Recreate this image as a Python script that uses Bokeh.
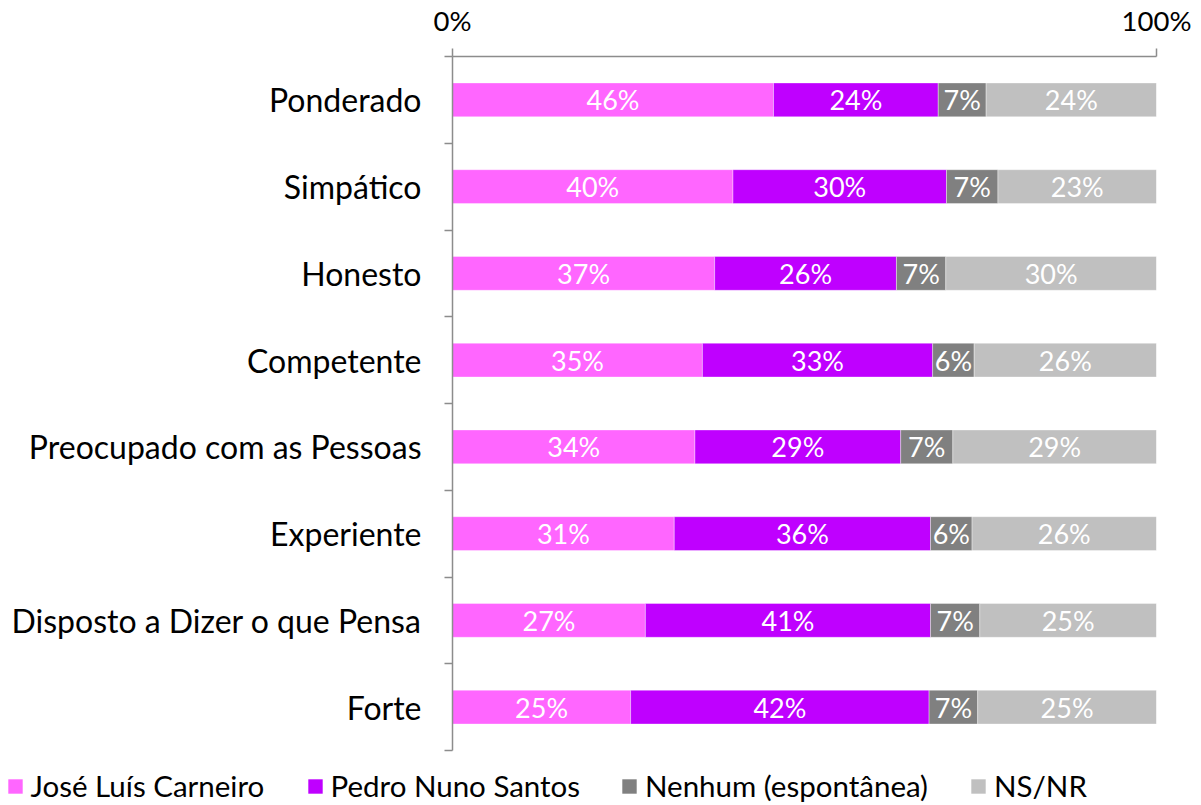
from bokeh.plotting import figure
from bokeh.layouts import column
from bokeh.models import (ColumnDataSource, Range1d, FixedTicker, NumeralTickFormatter,
                          Legend, LegendItem, Plot)
from bokeh.core.properties import value
from bokeh.embed import file_html
from bokeh.resources import INLINE

categories = ["Ponderado", "Simpático", "Honesto", "Competente",
              "Preocupado com as Pessoas", "Experiente",
              "Disposto a Dizer o que Pensa", "Forte"]
series = ["José Luís Carneiro", "Pedro Nuno Santos", "Nenhum (espontânea)", "NS/NR"]
jose = [45.6, 39.8, 37.2, 35.5, 34.4, 31.5, 27.4, 25.3]
pedro = [23.4, 30.3, 25.8, 32.7, 29.2, 36.4, 40.5, 42.4]
nenhum = [6.8, 7.3, 7.0, 5.9, 7.4, 5.9, 7.0, 6.9]
nsnr = [24.2, 22.5, 29.9, 25.9, 28.9, 26.2, 25.1, 25.4]
jose_lbl = [46, 40, 37, 35, 34, 31, 27, 25]
pedro_lbl = [24, 30, 26, 33, 29, 36, 41, 42]
nenhum_lbl = [7, 7, 7, 6, 7, 6, 7, 7]
nsnr_lbl = [24, 23, 30, 26, 29, 26, 25, 25]
colors = ["#FF66FF", "#BF00FF", "#808080", "#C0C0C0"]

FONT = "Lato"
W = 1193
H = 760
FL, FR, FT, FB = 452, 1156, 56, 750  # frame edges

p = figure(width=W, height=H, output_backend="svg", toolbar_location=None,
           x_range=Range1d(0, 1), y_range=Range1d(len(categories) - 0.5, -0.5),
           x_axis_location="above",
           min_border_left=FL, min_border_right=W - FR,
           min_border_top=FT, min_border_bottom=H - FB)
p.outline_line_color = None
p.xgrid.visible = False
p.ygrid.visible = False

vals = [jose, pedro, nenhum, nsnr]
lbls = [jose_lbl, pedro_lbl, nenhum_lbl, nsnr_lbl]
n = len(categories)
totals = [sum(v[i] for v in vals) for i in range(n)]
ys = list(range(n))
cum = [0.0] * n
for k, (v, lb) in enumerate(zip(vals, lbls)):
    left = [cum[i] / totals[i] for i in range(n)]
    right = [(cum[i] + v[i]) / totals[i] for i in range(n)]
    cum = [cum[i] + v[i] for i in range(n)]
    src = ColumnDataSource(dict(y=ys, left=left, right=right,
                                mid=[(a + b) / 2 for a, b in zip(left, right)],
                                lbl=[f"{x}%" for x in lb]))
    p.hbar(y="y", left="left", right="right", height=0.39, source=src,
           fill_color=colors[k], line_color="white", line_width=0.6, line_alpha=0.6)
    p.text(x="mid", y="y", text="lbl", source=src, text_align="center",
           text_baseline="middle", text_color="white",
           text_font=value(FONT), text_font_size="27px")

axis_col = "#8C8C8C"
xa = p.xaxis[0]
xa.ticker = FixedTicker(ticks=[0, 1], minor_ticks=[])
xa.formatter = NumeralTickFormatter(format="0%")
xa.axis_line_color = axis_col
xa.axis_line_width = 1.5
xa.major_tick_line_color = axis_col
xa.major_tick_line_width = 1.5
xa.major_tick_out = 8
xa.major_tick_in = 0
xa.minor_tick_line_color = None
xa.major_label_text_font = FONT
xa.major_label_text_font_size = "27.5px"
xa.major_label_text_color = "black"
xa.major_label_standoff = 12

ya = p.yaxis[0]
ya.ticker = FixedTicker(ticks=ys, minor_ticks=[i - 0.5 for i in range(n + 1)])
ya.major_label_overrides = {i: c for i, c in enumerate(categories)}
ya.axis_line_color = axis_col
ya.axis_line_width = 1.5
ya.major_tick_line_color = None
ya.major_tick_out = 0
ya.major_tick_in = 0
ya.minor_tick_line_color = axis_col
ya.minor_tick_line_width = 1.5
ya.minor_tick_out = 8
ya.minor_tick_in = 0
ya.major_label_text_font = FONT
ya.major_label_text_font_size = "32px"
ya.major_label_text_color = "black"
ya.major_label_standoff = 23

# legend strip below the chart
H2 = 45
lg = figure(width=W, height=H2, output_backend="svg", toolbar_location=None,
            x_axis_type=None, y_axis_type=None,
            x_range=Range1d(0, 1), y_range=Range1d(0, 1),
            min_border_left=0, min_border_right=0, min_border_top=0, min_border_bottom=0)
lg.outline_line_color = None
lg.xgrid.visible = False
lg.ygrid.visible = False
if "frame_align" in Plot.properties():
    p.frame_align = False
    lg.frame_align = False
legend_x = [5.5, 305.5, 620, 969]
for k, s in enumerate(series):
    r = lg.rect(x=[0], y=[0], width=[0], height=[0], fill_color=colors[k],
                line_color=None, visible=False)
    leg = Legend(items=[LegendItem(label=s, renderers=[r])], location=(legend_x[k], 2),
                 padding=0, margin=0, label_standoff=7,
                 glyph_width=18, glyph_height=18,
                 background_fill_alpha=0, border_line_alpha=0,
                 label_text_font=FONT, label_text_font_size="29.5px",
                 label_text_color="black")
    lg.add_layout(leg)

layout = column(p, lg, spacing=0)
open("out.html", "w").write(file_html(layout, INLINE))
